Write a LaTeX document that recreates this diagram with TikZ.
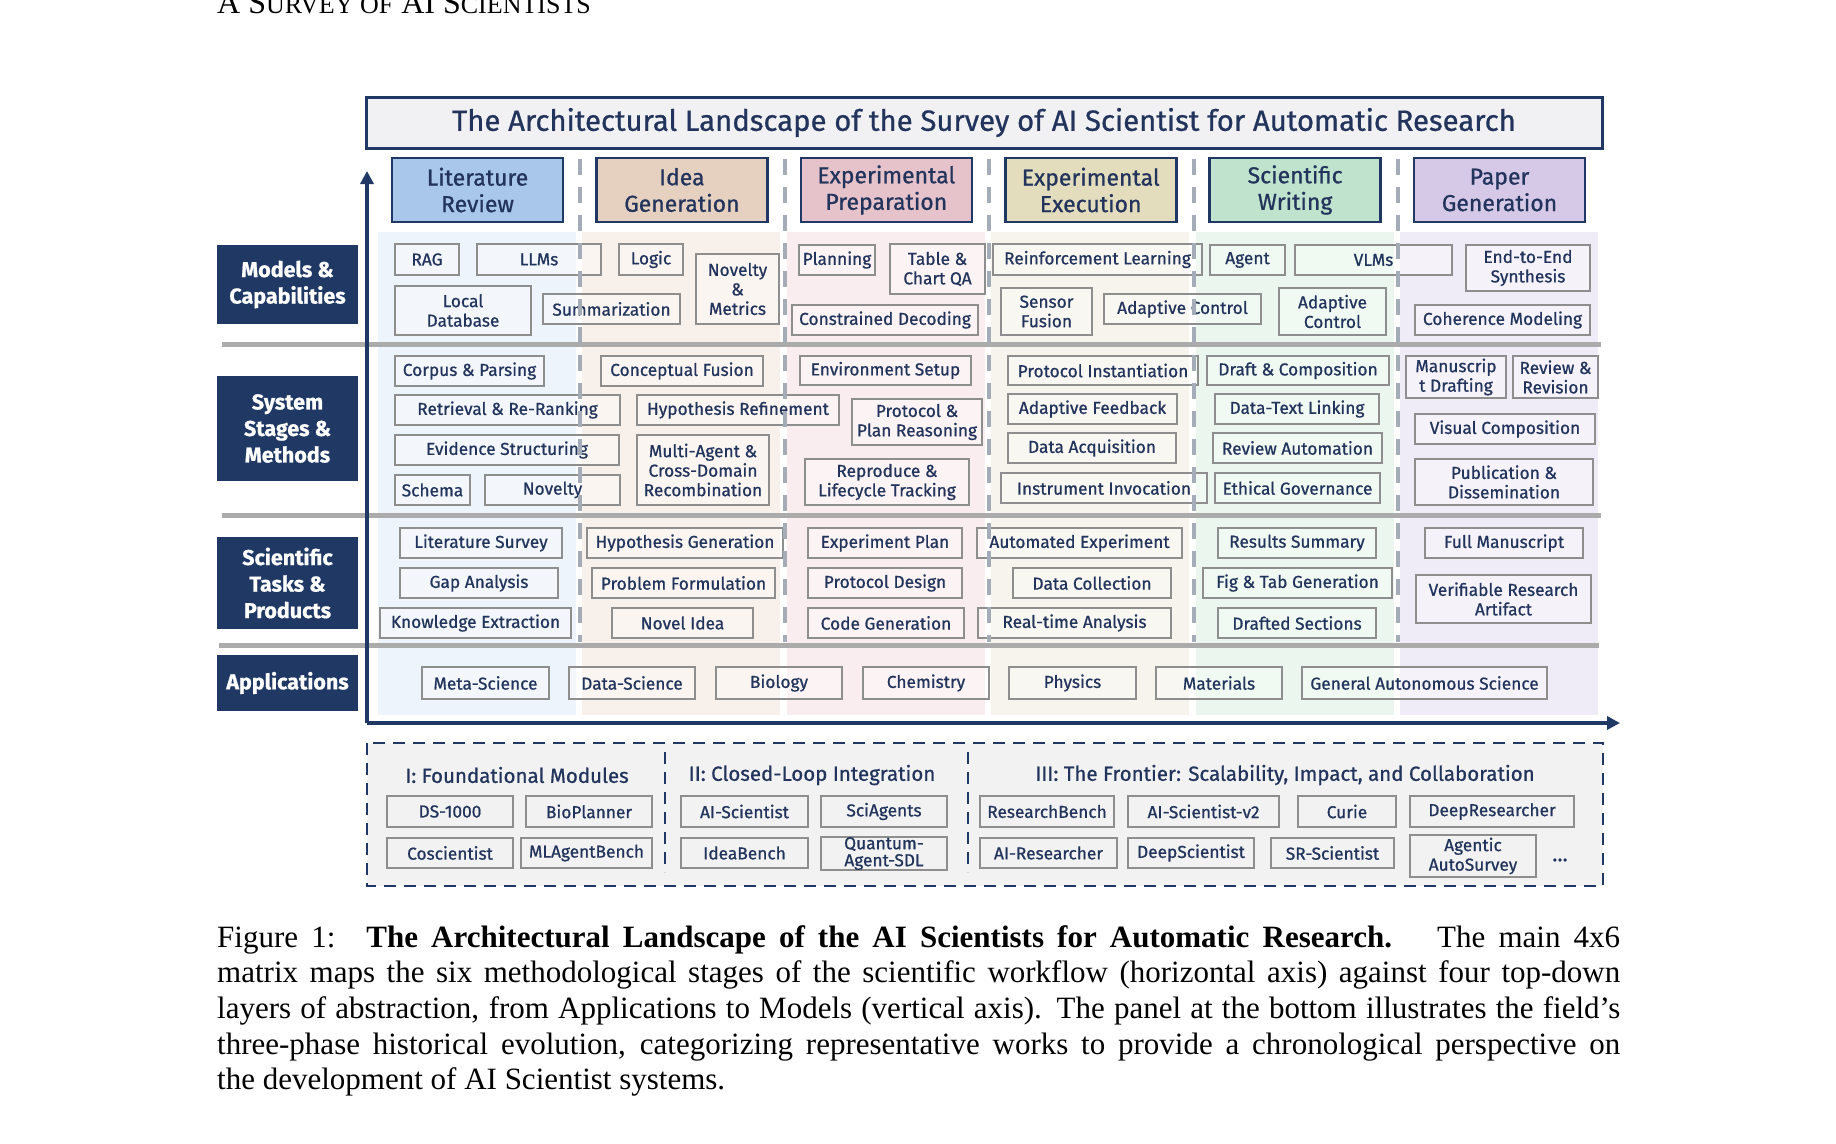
\documentclass[tikz,border=0pt]{standalone}
\usepackage{fontspec}
\setmainfont{Fira Sans}[FakeBold=0.8]
\newfontfamily\capfont{Liberation Serif}
\usetikzlibrary{arrows.meta}
\definecolor{navy}{HTML}{1F3864}
\definecolor{txt}{HTML}{22345C}
\definecolor{bgray}{HTML}{8E8E8E}
\definecolor{sepgray}{HTML}{ABABAB}
\definecolor{dashgray}{HTML}{A4ACB8}
\definecolor{titlefill}{HTML}{F1F1F3}
\definecolor{panelfill}{HTML}{F2F2F2}
\definecolor{hA}{HTML}{A9C7EB}
\definecolor{hB}{HTML}{E6D1C1}
\definecolor{hC}{HTML}{E6C3CA}
\definecolor{hD}{HTML}{E3DDBE}
\definecolor{hE}{HTML}{BFE3CC}
\definecolor{hF}{HTML}{D5C9E7}
\definecolor{bA}{HTML}{EEF4FB}
\definecolor{bB}{HTML}{F8F0EB}
\definecolor{bC}{HTML}{FAEDEF}
\definecolor{bD}{HTML}{F6F4EC}
\definecolor{bE}{HTML}{EBF6EE}
\definecolor{bF}{HTML}{F0ECF7}
\newcommand\bxn[7][bx]{\node[#1,minimum width={#5-#3},minimum height={#6-#4}] (#2) at ({(#3+#5)/2},{(#4+#6)/2}) {#7};}
\newcommand\smc{\fontsize{26}{26}\selectfont}
\tikzset{
  bx/.style={draw=bgray, line width=1.6pt, fill=white, fill opacity=0.35, text opacity=1, text=txt,
    font=\fontsize{17.3}{19.5}\selectfont, align=center, inner sep=0pt},
  pbx/.style={bx, fill=panelfill, fill opacity=1},
  hdr/.style={draw=navy, line width=2.6pt, text=txt, font=\fontsize{23}{26.5}\selectfont, align=center, inner sep=0pt},
  lbl/.style={fill=navy, text=white, font=\bfseries\fontsize{21.5}{26.5}\selectfont, align=center, inner sep=0pt},
  sepline/.style={draw=sepgray, line width=5pt},
  coldash/.style={draw=dashgray, line width=4pt, dash pattern=on 16pt off 12pt},
  axis/.style={draw=navy, line width=4pt, -{Triangle[length=13pt,width=13pt]}},
  paneldash/.style={draw=navy, line width=2.5pt, dash pattern=on 12pt off 8pt},
  phase/.style={text=txt, font=\fontsize{20.5}{22}\selectfont, inner sep=0pt}
}
\begin{document}
\begin{tikzpicture}[x=1pt,y=-1pt]
\useasboundingbox (0,0) rectangle (1836,1143);
% column bands
\foreach \c [count=\i from 0] in {bA,bB,bC,bD,bE,bF}
  \fill[\c] ({378+204.4*\i},232) rectangle ({576+204.4*\i},715);
% title
\bxn[draw=navy,line width=3pt,fill=titlefill,text=txt,font=\fontsize{29.3}{32}\selectfont,inner sep=0pt]{title}{366}{97}{1602}{148}{The Architectural Landscape of the Survey of AI Scientist for Automatic Research}
% headers
\bxn[hdr,fill=hA]{h1}{392}{158}{563}{222}{Literature\\Review}
\bxn[hdr,fill=hB]{h2}{596.4}{158}{767.4}{222}{Idea\\Generation}
\bxn[hdr,fill=hC]{h3}{800.8}{158}{971.8}{222}{Experimental\\Preparation}
\bxn[hdr,fill=hD]{h4}{1005.2}{158}{1176.2}{222}{Experimental\\Execution}
\bxn[hdr,fill=hE]{h5}{1209.6}{158}{1380.6}{222}{Scientific\\Writing}
\bxn[hdr,fill=hF]{h6}{1414}{158}{1585}{222}{Paper\\Generation}
% row labels
\bxn[lbl]{l1}{217}{245}{358}{324}{Models \&\\Capabilities}
\bxn[lbl]{l2}{217}{376}{358}{481}{System\\Stages \&\\Methods}
\bxn[lbl]{l3}{217}{537}{358}{629}{Scientific\\Tasks \&\\Products}
\bxn[lbl]{l4}{217}{655}{358}{711}{Applications}
% models & capabilities
\bxn{m1}{395}{244}{459}{275}{RAG}
\bxn{m2}{477}{244}{601}{275}{LLMs}
\bxn{m3}{619}{244}{683}{275}{Logic}
\bxn{m4}{696}{254}{779}{324}{Novelty\\\&\\Metrics}
\bxn{m5}{395}{286}{531}{335}{Local\\Database}
\bxn{m6}{543}{294}{680}{324}{Summarization}
\bxn{m7}{799}{245}{875}{275}{Planning}
\bxn{m8}{890}{244}{985}{294}{Table \&\\Chart QA}
\bxn{m9}{792}{305}{978}{335}{Constrained Decoding}
\bxn{m10}{993}{244}{1202}{275}{Reinforcement Learning}
\bxn{m11}{1001}{288}{1092}{335}{Sensor\\Fusion}
\bxn{m12}{1104}{294}{1261}{324}{Adaptive Control}
\bxn{m13}{1210}{245}{1285}{275}{Agent}
\bxn{m14}{1295}{245}{1452}{275}{VLMs}
\bxn{m15}{1279}{288}{1386}{335}{Adaptive\\Control}
\bxn{m16}{1466}{245}{1590}{291}{End-to-End\\Synthesis}
\bxn{m17}{1415}{305}{1590}{335}{Coherence Modeling}
% system stages & methods
\bxn{s1}{395}{356}{544}{386}{Corpus \& Parsing}
\bxn{s2}{601}{356}{763}{386}{Conceptual Fusion}
\bxn{s3}{395}{395}{620}{425}{Retrieval \& Re-Ranking}
\bxn{s4}{637}{395}{839}{425}{Hypothesis Refinement}
\bxn{s5}{395}{435}{619}{465}{Evidence Structuring}
\bxn{s6}{637}{435}{769}{505}{Multi-Agent \&\\Cross-Domain\\Recombination}
\bxn{s7}{395}{475}{470}{505}{Schema}
\bxn{s8}{485}{475}{620}{505}{Novelty}
\bxn{s9}{800}{356}{971}{385}{Environment Setup}
\bxn{s10}{852}{399}{982}{445}{Protocol \&\\Plan Reasoning}
\bxn{s11}{805}{459}{969}{505}{Reproduce \&\\Lifecycle Tracking}
\bxn{s12}{1008}{356}{1198}{385}{Protocol Instantiation}
\bxn{s13}{1008}{394}{1177}{424}{Adaptive Feedback}
\bxn{s14}{1008}{433}{1176}{463}{Data Acquisition}
\bxn{s15}{1001}{473}{1207}{503}{Instrument Invocation}
\bxn{s16}{1207}{356}{1389}{385}{Draft \& Composition}
\bxn{s17}{1215}{394}{1379}{424}{Data-Text Linking}
\bxn{s18}{1213}{433}{1382}{463}{Review Automation}
\bxn{s19}{1215}{473}{1380}{503}{Ethical Governance}
\bxn{s20}{1406}{356}{1506}{398}{Manuscrip\\t Drafting}
\bxn{s21}{1513}{356}{1598}{398}{Review \&\\Revision}
\bxn{s22}{1415}{414}{1595}{444}{Visual Composition}
\bxn{s23}{1415}{459}{1593}{505}{Publication \&\\Dissemination}
% scientific tasks & products
\bxn{t1}{400}{528}{562}{558}{Literature Survey}
\bxn{t2}{400}{568}{558}{598}{Gap Analysis}
\bxn{t3}{380}{608}{571}{638}{Knowledge Extraction}
\bxn{t4}{587}{528}{783}{558}{Hypothesis Generation}
\bxn{t5}{592}{568}{775}{598}{Problem Formulation}
\bxn{t6}{612}{608}{753}{638}{Novel Idea}
\bxn{t7}{808}{528}{962}{558}{Experiment Plan}
\bxn{t8}{808}{568}{962}{598}{Protocol Design}
\bxn{t9}{808}{608}{964}{638}{Code Generation}
\bxn{t10}{977}{528}{1182}{558}{Automated Experiment}
\bxn{t11}{1013}{568}{1171}{598}{Data Collection}
\bxn{t12}{978}{608}{1171}{638}{Real-time Analysis}
\bxn{t13}{1218}{528}{1376}{558}{Results Summary}
\bxn{t14}{1203}{568}{1392}{598}{Fig \& Tab Generation}
\bxn{t15}{1218}{608}{1376}{638}{Drafted Sections}
\bxn{t16}{1425}{528}{1583}{558}{Full Manuscript}
\bxn{t17}{1416}{575}{1591}{623}{Verifiable Research\\Artifact}
% applications
\bxn{a1}{422}{667}{549}{699}{Meta-Science}
\bxn{a2}{569}{667}{695}{699}{Data-Science}
\bxn{a3}{716}{667}{842}{699}{Biology}
\bxn{a4}{863}{667}{989}{699}{Chemistry}
\bxn{a5}{1009}{667}{1136}{699}{Physics}
\bxn{a6}{1156}{667}{1282}{699}{Materials}
\bxn{a7}{1302}{667}{1547}{699}{General Autonomous Science}
% separators
\draw[sepline] (222,344) -- (1601,344);
\draw[sepline] (222,515) -- (1601,515);
\draw[sepline] (219,645) -- (1599,645);
% axes
\coordinate (o) at (367,723);
\coordinate (ytip) at (367,171);
\coordinate (xtip) at (1620,723);
\draw[axis] (o) -- (ytip);
\draw[axis] (o) -- (xtip);
% column dashes
\foreach \x in {580,784.5,989,1194,1398}
  \draw[coldash] (\x,159) -- (\x,642);
% bottom panel
\fill[panelfill] (367,743) rectangle (1603,886);
\draw[paneldash] (367,743) rectangle (1603,886);
\draw[paneldash,line width=2pt] (665,752) -- (665,872);
\draw[paneldash,line width=2pt] (968,752) -- (968,872);
\node[phase] (ph1) at (517,775) {I: Foundational Modules};
\node[phase] (ph2) at (812,775) {II: Closed-Loop Integration};
\node[phase] (ph3) at (1285,775) {III: The Frontier: Scalability, Impact, and Collaboration};
\bxn[pbx]{p1}{387}{796}{513}{827}{DS-1000}
\bxn[pbx]{p2}{526}{796}{652}{827}{BioPlanner}
\bxn[pbx]{p3}{387}{838}{513}{868}{Coscientist}
\bxn[pbx]{p4}{521}{838}{652}{868}{MLAgentBench}
\bxn[pbx]{p5}{681}{796}{808}{827}{AI-Scientist}
\bxn[pbx]{p6}{821}{796}{947}{827}{SciAgents}
\bxn[pbx]{p7}{681}{838}{808}{868}{IdeaBench}
\bxn[pbx,font=\fontsize{17.3}{17}\selectfont]{p8}{821}{837}{947}{870}{Quantum-\\Agent-SDL}
\bxn[pbx]{p9}{980}{796}{1114}{827}{ResearchBench}
\bxn[pbx]{p10}{1128}{796}{1279}{827}{AI-Scientist-v2}
\bxn[pbx]{p11}{1298}{796}{1396}{827}{Curie}
\bxn[pbx]{p12}{1410}{796}{1574}{827}{DeepResearcher}
\bxn[pbx]{p13}{980}{838}{1117}{868}{AI-Researcher}
\bxn[pbx]{p14}{1128}{838}{1254}{868}{DeepScientist}
\bxn[pbx]{p15}{1271}{838}{1394}{868}{SR-Scientist}
\bxn[pbx]{p16}{1410}{835}{1536}{877}{Agentic\\AutoSurvey}
\node[phase] (dots) at (1560,860) {\dots};
% running head
\node[anchor=base west,inner sep=0pt] (head) at (217,13) {\capfont\fontsize{32}{32}\selectfont A S{\smc URVEY OF} AI S{\smc CIENTISTS}};
% caption
\node[anchor=base west,inner sep=0pt] (cap) at (217,947) {\parbox[t]{1403pt}{\capfont\fontsize{31}{35.7}\selectfont
Figure 1:\hspace{1em}\textbf{The Architectural Landscape of the AI Scientists for Automatic Research.}\hspace{0.6em} The main 4x6\linebreak
matrix maps the six methodological stages of the scientific workflow (horizontal axis) against four top-down\linebreak
layers of abstraction, from Applications to Models (vertical axis). The panel at the bottom illustrates the field’s\linebreak
three-phase historical evolution, categorizing representative works to provide a chronological perspective on\linebreak
the development of AI Scientist systems.}};
\end{tikzpicture}
\end{document}
